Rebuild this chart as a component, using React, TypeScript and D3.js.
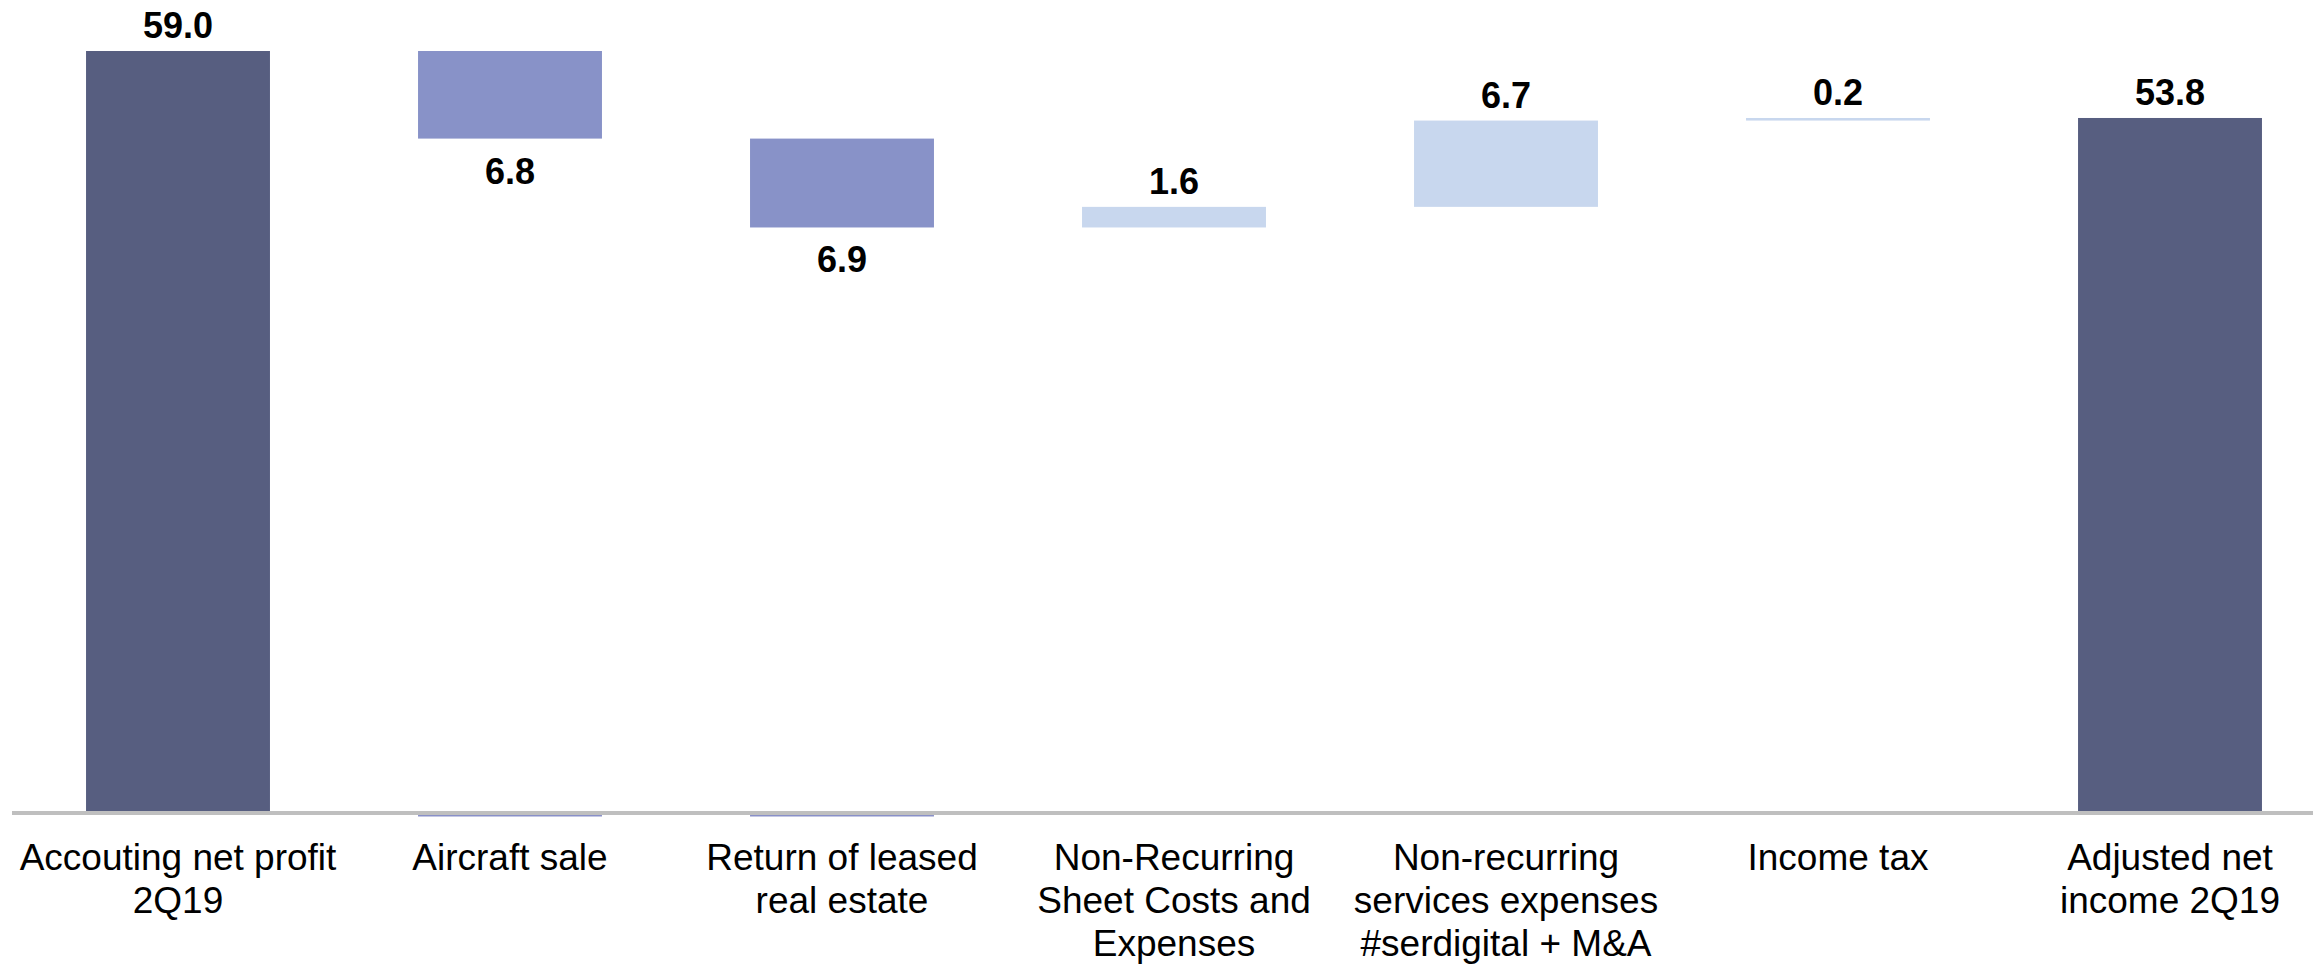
import React from "react";
import * as d3 from "d3";

// Bridge from accounting net profit to adjusted net income (R$ million)
const categories: string[] = [
  "Accouting net profit\n2Q19",
  "Aircraft sale",
  "Return of leased\nreal estate",
  "Non-Recurring\nSheet Costs and\nExpenses",
  "Non-recurring\nservices expenses\n#serdigital + M&A",
  "Income tax",
  "Adjusted net\nincome 2Q19",
];
// "total" bars start from zero; "down"/"up" bars float on the running sum
const kinds: ("total" | "down" | "up")[] = ["total", "down", "down", "up", "up", "up", "total"];
const values: number[] = [59.0, 6.8, 6.9, 1.6, 6.7, 0.2, 53.8];
const valueLabels: string[] = ["59.0", "6.8", "6.9", "1.6", "6.7", "0.2", "53.8"];

const COLORS = { total: "#575e80", down: "#8892c8", up: "#c8d7ee" };

const W = 2313;
const H = 964;
const plotLeft = 12;
const plotRight = 2336;
const baseY = 811;
const topY = 51;

type Seg = { cat: string; kind: string; y0: number; y1: number; label: string };

function buildSegments(): Seg[] {
  let running = 0;
  return categories.map((cat, i) => {
    const k = kinds[i];
    const v = values[i];
    let y0 = 0;
    let y1 = 0;
    if (k === "total") {
      y0 = 0;
      y1 = v;
      running = v;
    } else if (k === "down") {
      y0 = running - v;
      y1 = running;
      running = y0;
    } else {
      y0 = running;
      y1 = running + v;
      running = y1;
    }
    return { cat, kind: k, y0, y1, label: valueLabels[i] };
  });
}

export default function App() {
  const segs = buildSegments();
  const x = d3
    .scaleBand<string>()
    .domain(categories)
    .range([plotLeft, plotRight])
    .paddingInner(0.446)
    .paddingOuter(0.223);
  const y = d3.scaleLinear().domain([0, values[0]]).range([baseY, topY]);
  const bw = x.bandwidth();
  const axisW = 4;

  return (
    <svg
      width={W}
      height={H}
      style={{ position: "absolute", left: 0, top: 0, background: "#ffffff" }}
      fontFamily="'Liberation Sans', Arial, sans-serif"
    >
      {segs.map((s, i) => {
        const bx = x(s.cat) as number;
        const top = y(s.y1);
        const bottom = y(s.y0);
        return (
          <g key={i}>
            <rect
              x={bx}
              y={top}
              width={bw}
              height={Math.max(bottom - top, 1)}
              fill={(COLORS as any)[s.kind]}
            />
            {s.kind === "down" && (
              <rect
                x={bx}
                y={y(0) + axisW}
                width={bw}
                height={1.5}
                fill="#8990c8"
              />
            )}
            <text
              x={bx + bw / 2}
              y={s.kind === "down" ? bottom + 45 : top - 13}
              textAnchor="middle"
              fontSize={36}
              fontWeight="bold"
              fill="#000"
            >
              {s.label}
            </text>
          </g>
        );
      })}
      {/* category axis line */}
      <rect x={plotLeft} y={y(0)} width={W - plotLeft} height={axisW} fill="#bfbfbf" />
      {categories.map((c, i) => {
        const cx = (x(c) as number) + bw / 2;
        const lines = c.split("\n");
        return (
          <text key={i} x={cx} textAnchor="middle" fontSize={37} fill="#000">
            {lines.map((ln, j) => (
              <tspan key={j} x={cx} y={y(0) + 59 + j * 43}>
                {ln}
              </tspan>
            ))}
          </text>
        );
      })}
    </svg>
  );
}
